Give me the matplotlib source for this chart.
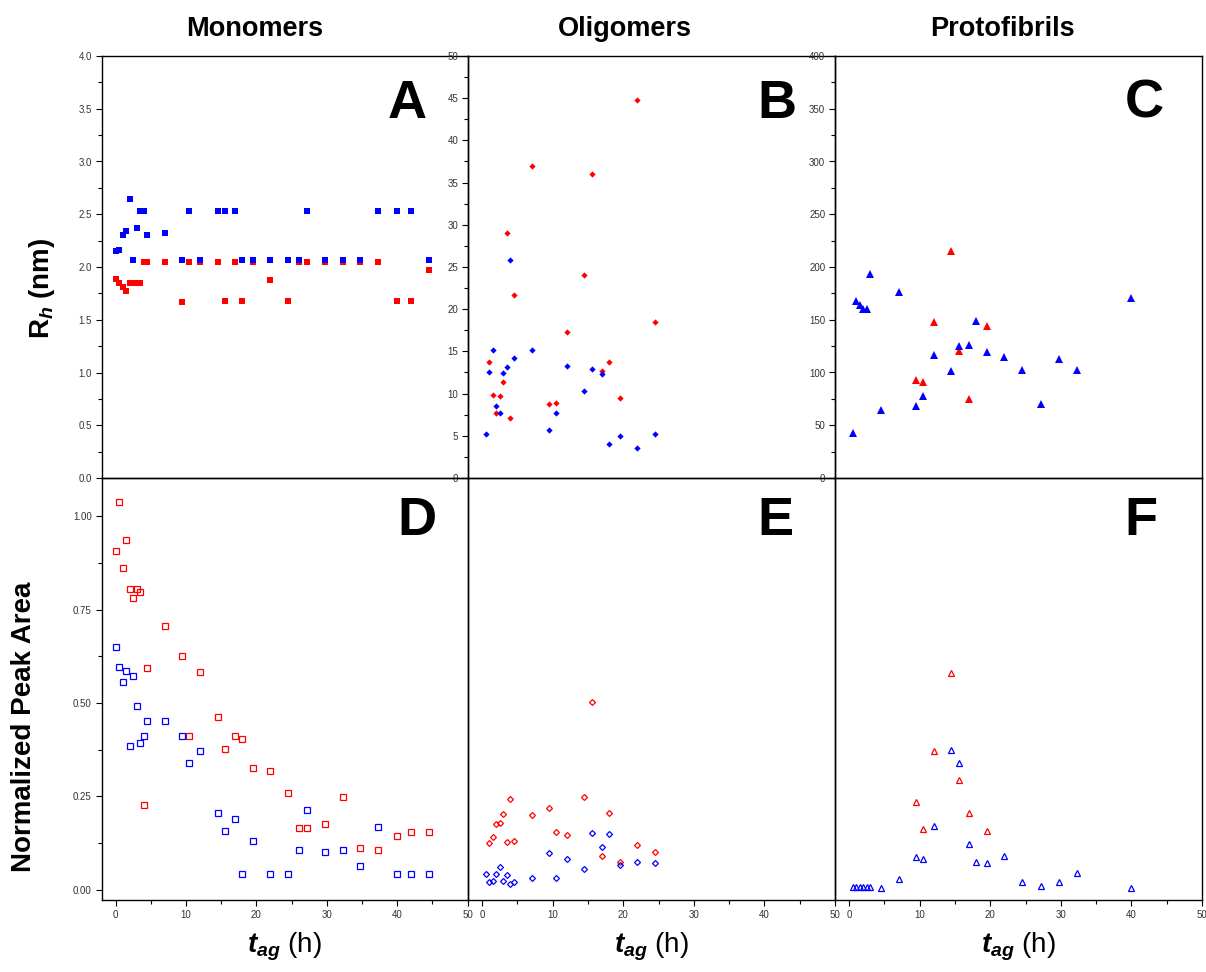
import matplotlib
matplotlib.use('Agg')
import matplotlib.pyplot as plt
from matplotlib.ticker import MultipleLocator, FormatStrFormatter

plt.rcParams['font.family'] = 'Liberation Sans'
plt.rcParams['mathtext.fontset'] = 'custom'
plt.rcParams['mathtext.it'] = 'Liberation Sans:italic:bold'
plt.rcParams['mathtext.rm'] = 'Liberation Sans:bold'
plt.rcParams['mathtext.bf'] = 'Liberation Sans:bold'

# ---- data ----
# monomers (panels A, D)
t_mono = [0, 0.5, 1, 1.5, 2, 2.5, 3, 3.5, 4, 4.5, 7, 9.5, 10.5, 12, 14.5, 15.5, 17, 18,
          19.5, 22, 24.5, 26, 27.25, 29.75, 32.25, 34.75, 37.25, 40, 42, 44.5]
rh_mono_blue = [2.15, 2.16, 2.30, 2.34, 2.64, 2.07, 2.37, 2.53, 2.53, 2.30, 2.32, 2.07, 2.53,
                2.07, 2.53, 2.53, 2.53, 2.07, 2.07, 2.07, 2.07, 2.07, 2.53, 2.07, 2.07, 2.07,
                2.53, 2.53, 2.53, 2.07]
rh_mono_red = [1.89, 1.85, 1.81, 1.77, 1.85, 1.85, 1.85, 1.85, 2.05, 2.05, 2.05, 1.67, 2.05,
               2.05, 2.05, 1.68, 2.05, 1.68, 2.05, 1.88, 1.68, 2.05, 2.05, 2.05, 2.05, 2.05,
               2.05, 1.68, 1.68, 1.97]
area_mono_blue = [0.651, 0.596, 0.556, 0.586, 0.384, 0.572, 0.491, 0.393, 0.412, 0.452, 0.451,
                  0.412, 0.339, 0.372, 0.206, 0.158, 0.191, 0.042, 0.132, 0.042, 0.042, 0.106,
                  0.215, 0.101, 0.107, 0.064, 0.168, 0.042, 0.042, 0.042]
area_mono_red = [0.908, 1.037, 0.862, 0.936, 0.806, 0.780, 0.804, 0.797, 0.228, 0.595, 0.705,
                 0.627, 0.413, 0.584, 0.463, 0.377, 0.413, 0.405, 0.325, 0.319, 0.260, 0.166,
                 0.166, 0.175, 0.248, 0.111, 0.107, 0.145, 0.155, 0.156]

# oligomers (panels B, E)
t_oligo_blue = [0.5, 1, 1.5, 2, 2.5, 3, 3.5, 4, 4.5, 7, 9.5, 10.5, 12, 14.5, 15.5, 17, 18,
                19.5, 22, 24.5]
t_oligo_red = [1, 1.5, 2, 2.5, 3, 3.5, 4, 4.5, 7, 9.5, 10.5, 12, 14.5, 15.5, 17, 18, 19.5,
               22, 24.5]
rh_oligo_blue = [5.25, 12.56, 15.17, 8.53, 7.74, 12.4, 13.19, 25.79, 14.18, 15.17, 5.73, 7.74,
                 13.31, 10.27, 12.91, 12.28, 4.07, 4.98, 3.59, 5.21]
rh_oligo_red = [13.78, 9.87, 7.74, 9.75, 11.41, 29.07, 7.11, 21.72, 37.0, 8.77, 8.89, 17.34,
                24.01, 36.02, 12.68, 13.78, 9.52, 44.83, 18.44]
area_oligo_blue = [0.042, 0.022, 0.025, 0.042, 0.061, 0.025, 0.039, 0.016, 0.022, 0.033, 0.099,
                   0.033, 0.084, 0.056, 0.153, 0.116, 0.149, 0.067, 0.075, 0.073]
area_oligo_red = [0.126, 0.141, 0.175, 0.180, 0.204, 0.127, 0.243, 0.130, 0.201, 0.220, 0.155,
                  0.147, 0.249, 0.504, 0.090, 0.206, 0.076, 0.121, 0.101]

# protofibrils (panels C, F)
t_proto_blue = [0.5, 1, 1.5, 2, 2.5, 3, 4.5, 7, 9.5, 10.5, 12, 14.5, 15.5, 17, 18, 19.5, 22,
                24.5, 27.25, 29.75, 32.25, 40]
t_proto_red = [9.5, 10.5, 12, 14.5, 15.5, 17, 19.5]
rh_proto_blue = [43, 168, 164, 160.5, 160, 193, 64, 176, 68, 78, 117, 101, 125, 126, 149, 119,
                 115, 102, 70, 113, 102, 171]
rh_proto_red = [92.6, 90.7, 148, 215, 120.7, 75, 144]
area_proto_blue = [0.008, 0.008, 0.008, 0.008, 0.008, 0.008, 0.005, 0.028, 0.088, 0.082, 0.170,
                   0.375, 0.340, 0.122, 0.076, 0.071, 0.090, 0.022, 0.011, 0.020, 0.044, 0.005]
area_proto_red = [0.236, 0.164, 0.372, 0.580, 0.295, 0.206, 0.158]

col_titles = ['Monomers', 'Oligomers', 'Protofibrils']
letters = ['A', 'B', 'C', 'D', 'E', 'F']

BLUE = '#0000ff'
RED = '#ff0000'
W, H = 1206, 972

fig = plt.figure(figsize=(W / 100, H / 100), dpi=100)


def px(x0, y0, x1, y1):
    # pixel box -> figure rect
    return [x0 / W, 1 - y1 / H, (x1 - x0) / W, (y1 - y0) / H]


cols = [(101.5, 467.5), (468, 835), (835, 1202)]
top_rows = (56, 478)
bot_rows = (478, 900)


def style(ax):
    for s in ax.spines.values():
        s.set_linewidth(1.0)
    ax.set_facecolor('none')
    ax.tick_params(which='both', direction='out', width=0.8, labelsize=7,
                   labelcolor='#333333', pad=2.5)
    ax.tick_params(which='major', length=4.5)
    ax.tick_params(which='minor', length=3)
    ax.set_xlim(-2, 50)


axes_top = [fig.add_axes(px(c[0], top_rows[0], c[1], top_rows[1])) for c in cols]
axes_bot = [fig.add_axes(px(c[0], bot_rows[0], c[1], bot_rows[1])) for c in cols]

# top row: Rh
ylims = [(0, 4.0), (0, 50), (0, 400)]
ysteps = [(0.5, 0.25, '%.1f'), (5, 2.5, '%d'), (50, 25, '%d')]
for ax, yl, (mj, mn, fmt) in zip(axes_top, ylims, ysteps):
    style(ax)
    ax.set_ylim(*yl)
    ax.yaxis.set_major_locator(MultipleLocator(mj))
    ax.yaxis.set_minor_locator(MultipleLocator(mn))
    ax.yaxis.set_major_formatter(FormatStrFormatter(fmt))
    ax.tick_params(axis='x', which='both', bottom=False, labelbottom=False)

axA, axB, axC = axes_top
axA.plot(t_mono, rh_mono_red, 's', color=RED, ms=4.0, mew=0)
axA.plot(t_mono, rh_mono_blue, 's', color=BLUE, ms=4.8, mew=0)
axB.plot(t_oligo_red, rh_oligo_red, 'D', color=RED, ms=3.2, mew=0)
axB.plot(t_oligo_blue, rh_oligo_blue, 'D', color=BLUE, ms=3.2, mew=0)
axC.plot(t_proto_red, rh_proto_red, '^', color=RED, ms=5.6, mew=0)
axC.plot(t_proto_blue, rh_proto_blue, '^', color=BLUE, ms=5.6, mew=0)

# bottom row: normalized area
for i, ax in enumerate(axes_bot):
    style(ax)
    ax.set_ylim(-0.027, 1.102)
    ax.xaxis.set_major_locator(MultipleLocator(10))
    ax.xaxis.set_minor_locator(MultipleLocator(5))
    if i == 0:
        ax.yaxis.set_major_locator(MultipleLocator(0.25))
        ax.yaxis.set_minor_locator(MultipleLocator(0.125))
        ax.yaxis.set_major_formatter(FormatStrFormatter('%.2f'))
    else:
        ax.tick_params(axis='y', which='both', left=False, labelleft=False)

axD, axE, axF = axes_bot
open_kw = dict(mfc='none', ls='none', mew=0.9)
axD.plot(t_mono, area_mono_red, 's', mec=RED, ms=3.8, **open_kw)
axD.plot(t_mono, area_mono_blue, 's', mec=BLUE, ms=3.8, **open_kw)
axE.plot(t_oligo_red, area_oligo_red, 'D', mec=RED, ms=3.0, **open_kw)
axE.plot(t_oligo_blue, area_oligo_blue, 'D', mec=BLUE, ms=3.0, **open_kw)
axF.plot(t_proto_red, area_proto_red, '^', mec=RED, ms=4.8, **open_kw)
axF.plot(t_proto_blue, area_proto_blue, '^', mec=BLUE, ms=4.8, **open_kw)

# panel letters
for ax, letter, (x, y) in zip(axes_top + axes_bot, letters,
                              [(407, 118), (777, 118), (1144, 118),
                               (417, 535), (775, 535), (1141, 535)]):
    fig.text(x / W, 1 - y / H, letter, fontsize=39, fontweight='bold',
             ha='center', va='baseline')

# column titles
for title, x in zip(col_titles, [255, 625, 1002]):
    fig.text(x / W, 1 - 36 / H, title, fontsize=19.5, fontweight='bold',
             ha='center', va='baseline')

# axis labels
fig.text(42 / W, 1 - 288 / H, r'R$_h$ (nm)', fontsize=20, fontweight='bold',
         rotation=90, ha='center', va='center')
fig.text(24 / W, 1 - 727 / H, 'Normalized Peak Area', fontsize=20, fontweight='bold',
         rotation=90, ha='center', va='center')
for c in cols:
    fig.text((c[0] + c[1]) / 2 / W, 1 - 952 / H, r'$t_{ag}$ (h)', fontsize=20,
             ha='center', va='baseline')

fig.savefig('out.png', dpi=100)
